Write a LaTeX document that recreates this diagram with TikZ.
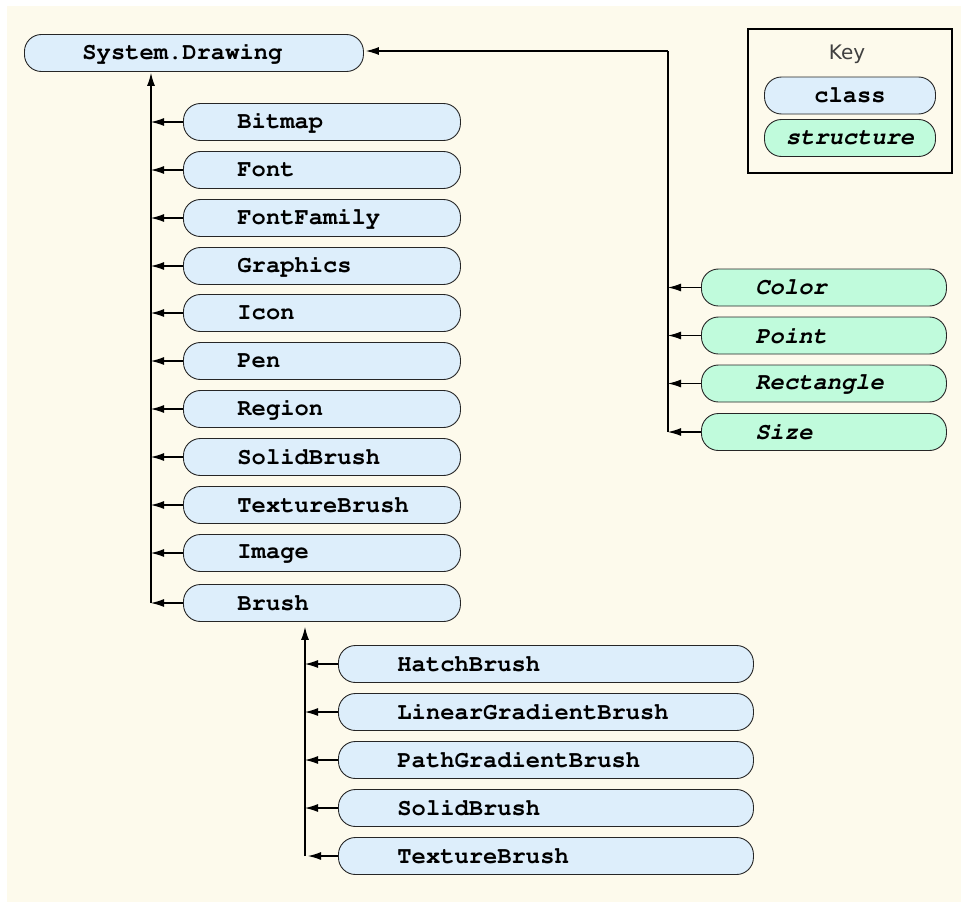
\documentclass[tikz,border=0pt]{standalone}
\usepackage[T1]{fontenc}
\usepackage{fontspec}
\newfontfamily\keyfont{DejaVu Sans}
\newcommand\courb{\fontencoding{T1}\fontfamily{pcr}\fontseries{b}\fontshape{n}\selectfont}
\newcommand\courbi{\fontencoding{T1}\fontfamily{pcr}\fontseries{b}\fontshape{sl}\selectfont}
\usetikzlibrary{arrows.meta}
\definecolor{bg}{RGB}{253,250,236}
\definecolor{clsfill}{RGB}{221,238,251}
\definecolor{strfill}{RGB}{192,251,220}
\tikzset{
 box/.style={draw=black!85, line width=0.9pt, rounded corners=17pt, minimum height=37pt,
   inner xsep=0pt, inner ysep=0pt, anchor=west, align=left,
   font=\courb\fontsize{23.8}{28}\selectfont},
 cls/.style 2 args={box, fill=clsfill, text width=#1, execute at begin node={\hspace*{#2}}},
 str/.style 2 args={box, fill=strfill, text width=#1, font=\courbi\fontsize{23.8}{28}\selectfont, execute at begin node={\hspace*{#2}}},
 keybox/.style={box, anchor=center, align=center, text width=171pt},
 arr/.style={-{Latex[length=13pt,width=8pt]}, line width=1.1pt},
}
\begin{document}
\begin{tikzpicture}[x=1pt,y=-1pt]
\useasboundingbox (0,0) rectangle (961,902);
\fill[bg] (7,6) rectangle (961,902);
% root
\node[cls={339pt}{58pt}] (sd) at (24,53) {System.Drawing};
% classes
\node[cls={277pt}{54pt}] (bitmap) at (183,122) {Bitmap};
\node[cls={277pt}{54pt}] (font) at (183,170) {Font};
\node[cls={277pt}{54pt}] (fontfamily) at (183,218) {FontFamily};
\node[cls={277pt}{54pt}] (graphics) at (183,266) {Graphics};
\node[cls={277pt}{54pt}] (icon) at (183,313) {Icon};
\node[cls={277pt}{54pt}] (pen) at (183,361) {Pen};
\node[cls={277pt}{54pt}] (region) at (183,409) {Region};
\node[cls={277pt}{54pt}] (solid1) at (183,457) {SolidBrush};
\node[cls={277pt}{54pt}] (texture1) at (183,505) {TextureBrush};
\node[cls={277pt}{54pt}] (image) at (183,553) {Image};
\node[cls={277pt}{54pt}] (brush) at (183,603) {Brush};
% brush classes
\node[cls={415pt}{59pt}] (hatch) at (338,664) {HatchBrush};
\node[cls={415pt}{59pt}] (linear) at (338,712) {LinearGradientBrush};
\node[cls={415pt}{59pt}] (path) at (338,760) {PathGradientBrush};
\node[cls={415pt}{59pt}] (solid2) at (338,808) {SolidBrush};
\node[cls={415pt}{59pt}] (texture2) at (338,856) {TextureBrush};
% structures
\node[str={245pt}{54pt}] (color) at (701,287.5) {Color};
\node[str={245pt}{54pt}] (point) at (701,335.5) {Point};
\node[str={245pt}{54pt}] (rect) at (701,383.5) {Rectangle};
\node[str={245pt}{54pt}] (size) at (701,432) {Size};
% key
\draw[line width=1.1pt, fill=bg] (748,29) rectangle (952,173);
\node[font=\keyfont\fontsize{20}{24}\selectfont, text=black!75] (keylbl) at (847,54) {Key};
\node[keybox, fill=clsfill] (kclass) at (850,95.5) {class};
\node[keybox, fill=strfill, font=\courbi\fontsize{23.8}{28}\selectfont] (kstruct) at (850,138) {structure};
% left trunk
\coordinate (t1) at (151,603);
\draw[arr, shorten >=1pt] (t1) -- (t1 |- sd.south);
\foreach \n in {bitmap,font,fontfamily,graphics,icon,pen,region,solid1,texture1,image,brush}
  \draw[arr] (\n.west) -- (\n.west -| t1);
% brush trunk
\coordinate (t2) at (305,856);
\draw[arr, shorten >=5pt] (t2) -- (t2 |- brush.south);
\foreach \n in {hatch,linear,path,solid2}
  \draw[arr] (\n.west) -- (\n.west -| t2);
\draw[arr, shorten >=3pt] (texture2.west) -- (texture2.west -| t2);
% structure trunk
\coordinate (t3) at (668,432);
\coordinate (t4) at (668,51);
\draw[line width=1.1pt] (t3) -- (t4);
\draw[arr, shorten >=2pt] (t4) -- (t4 -| sd.east);
\foreach \n in {color,point,rect,size}
  \draw[arr] (\n.west) -- (\n.west -| t3);
\end{tikzpicture}
\end{document}
